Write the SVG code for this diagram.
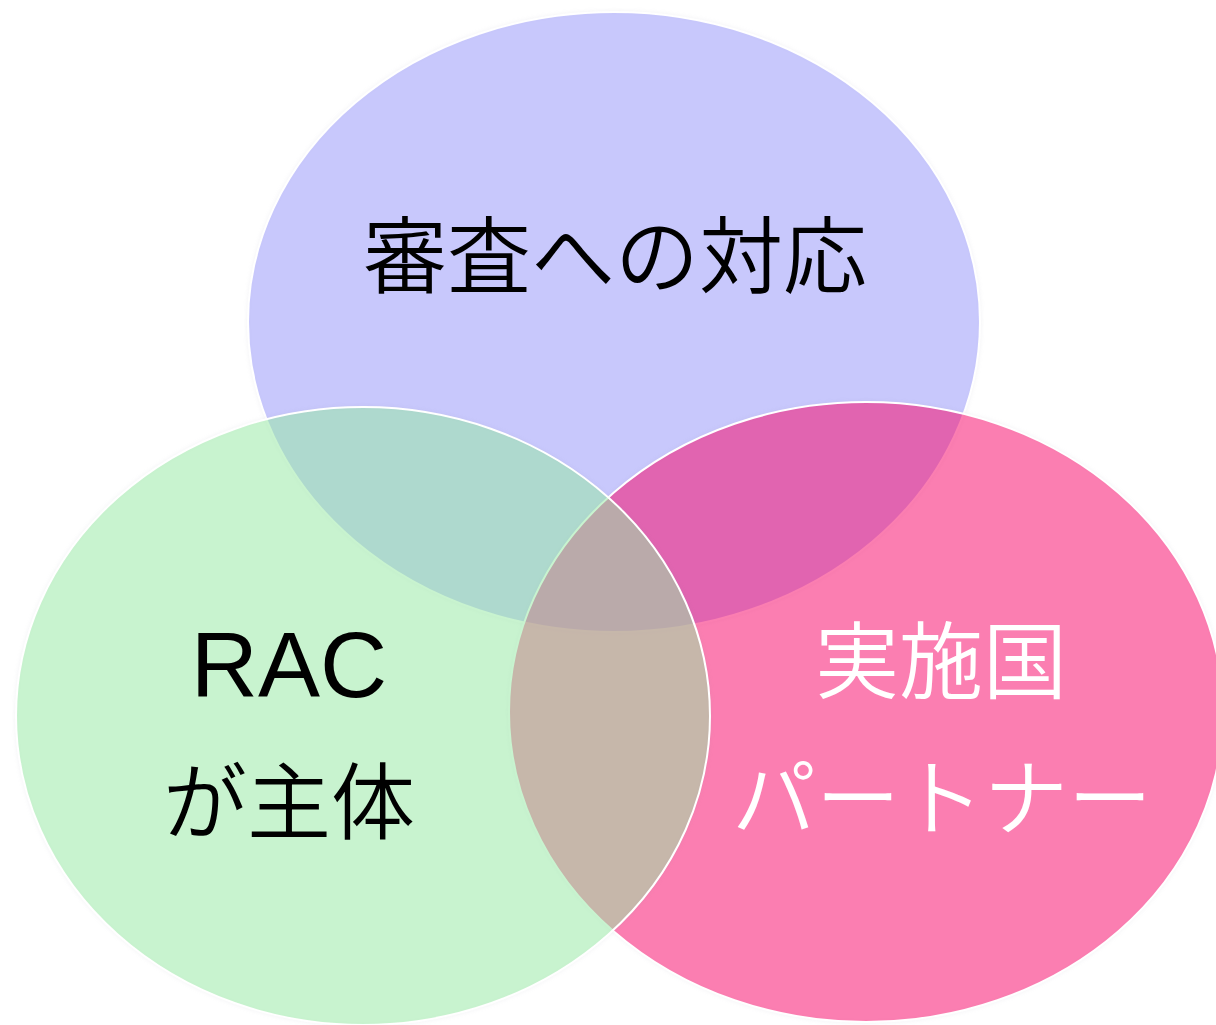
<svg xmlns="http://www.w3.org/2000/svg" width="1216" height="1025" viewBox="0 0 1216 1025">
  <style>
    .circ { stroke: #ffffff; stroke-width: 2; filter: url(#sh); }
    .jp { font-family: "Noto Sans CJK JP", "Noto Sans CJK SC", sans-serif; font-size: 84px; font-weight: 350; text-anchor: middle; }
    .lat { font-family: "Liberation Sans", Arial, sans-serif; font-size: 93px; text-anchor: middle; }
    .dark { fill: #000000; }
    .light { fill: #ffffff; }
  </style>
  <defs>
    <filter id="sh" x="-5%" y="-5%" width="110%" height="110%" color-interpolation-filters="sRGB">
      <feDropShadow dx="0" dy="0" stdDeviation="2" flood-color="#8080a0" flood-opacity="0.12"/>
    </filter>
  </defs>
  <rect width="1216" height="1025" fill="#ffffff"/>
  <g id="review">
    <ellipse class="circ" cx="614" cy="322" rx="366" ry="310" fill="#9999ff" fill-opacity="0.5"/>
  </g>
  <g id="partner">
    <ellipse class="circ" cx="866" cy="712" rx="357" ry="310" fill="#ff0569" fill-opacity="0.5"/>
  </g>
  <g id="rac">
    <ellipse class="circ" cx="363" cy="716" rx="347" ry="309" fill="#99efa5" fill-opacity="0.5"/>
  </g>
  <g id="connectors"></g>
  <g id="labels">
    <text class="jp dark" x="615" y="287">審査への対応</text>
    <text class="lat dark" x="289" y="697">RAC</text>
    <text class="jp dark" x="289" y="833">が主体</text>
    <text class="jp light" x="941" y="692">実施国</text>
    <text class="jp light" x="942" y="829">パートナー</text>
  </g>
</svg>
